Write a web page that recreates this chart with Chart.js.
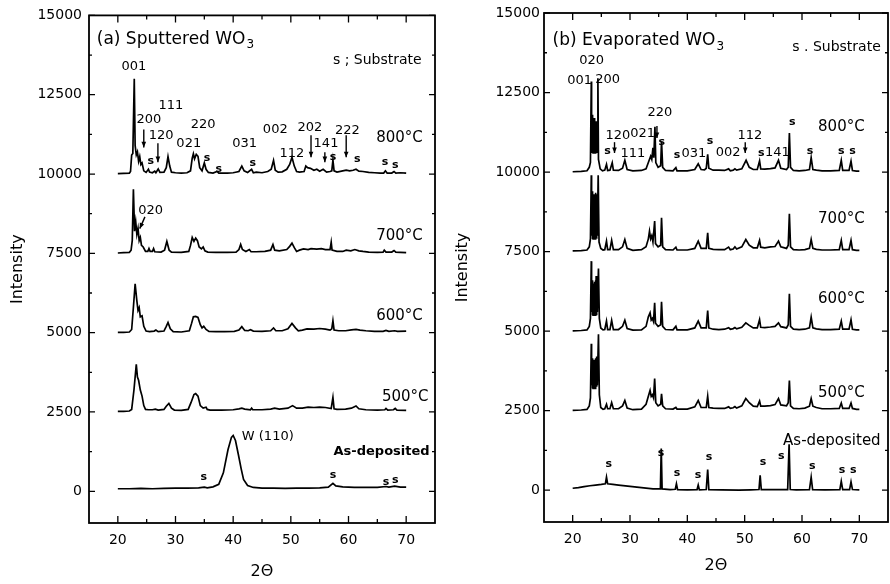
<!DOCTYPE html>
<html>
<head>
<meta charset="utf-8">
<script src="https://cdn.jsdelivr.net/npm/chart.js@4.4.1/dist/chart.umd.min.js"></script>
<style>
  html, body { margin: 0; padding: 0; background: #fff; }
  #wrap { position: relative; width: 890px; height: 584px; }
  .box { position: absolute; top: 0; width: 445px; height: 584px; }
</style>
</head>
<body>
<div id="wrap">
  <div class="box" style="left:0"><canvas id="chartA"></canvas></div>
  <div class="box" style="left:445px"><canvas id="chartB"></canvas></div>
</div>
<script>
// ---- axes ----
const xTicks = [20, 30, 40, 50, 60, 70];
const yTicks = [0, 2500, 5000, 7500, 10000, 12500, 15000];

// ---- (a) sputtered WO3 : [2theta, intensity] ----
const sp800 = [[20,10010],[21,10020],[22,10030],[22.2,10080],[22.4,10600],[22.6,10650],[22.85,13000],[23.0,10900],[23.2,10600],[23.4,10700],[23.6,10400],[23.8,10550],[24.0,10300],[24.2,10350],[24.5,10100],[24.9,10050],[25.3,10150],[25.5,10060],[26.0,10040],[26.4,10090],[26.6,10040],[27.0,10160],[27.3,10050],[28.0,10060],[28.4,10200],[28.7,10550],[29.0,10250],[29.3,10060],[30,10040],[31,10030],[32,10040],[32.6,10100],[32.9,10500],[33.1,10640],[33.3,10480],[33.6,10620],[33.9,10560],[34.2,10200],[34.6,10100],[35.0,10350],[35.3,10150],[35.7,10050],[36.5,10030],[37.2,10080],[37.5,10030],[39,10030],[40,10040],[41.0,10080],[41.5,10250],[41.9,10100],[42.5,10050],[43.2,10150],[43.5,10040],[44,10060],[45,10040],[46,10080],[46.6,10150],[47.0,10430],[47.3,10120],[47.8,10060],[48.5,10070],[49.3,10150],[49.8,10300],[50.2,10530],[50.6,10250],[51,10080],[51.5,10060],[52.3,10080],[52.6,10250],[52.9,10200],[53.4,10180],[54,10120],[54.5,10150],[55,10090],[55.6,10150],[56.2,10060],[56.8,10080],[57.1,10100],[57.3,10440],[57.5,10100],[58,10060],[58.8,10090],[59.6,10120],[60.2,10100],[60.8,10120],[61.3,10150],[61.8,10090],[62.5,10080],[63.5,10050],[64.5,10040],[65.5,10030],[66.1,10030],[66.4,10100],[66.7,10030],[67.5,10030],[67.9,10080],[68.2,10030],[69,10040],[70,10030]];
const sp700 = [[20,7510],[21,7520],[22,7530],[22.3,7600],[22.5,7900],[22.7,9520],[22.9,8200],[23.1,8500],[23.3,8100],[23.5,8290],[23.7,7900],[23.9,8000],[24.1,7750],[24.4,7700],[24.8,7560],[25.2,7560],[25.4,7650],[25.6,7560],[26.0,7560],[26.2,7650],[26.4,7550],[27.5,7540],[28.1,7600],[28.5,7875],[28.9,7600],[29.3,7540],[31,7530],[32.3,7560],[32.6,7750],[32.9,8000],[33.2,7880],[33.5,7980],[33.8,7900],[34.1,7700],[34.5,7640],[34.8,7700],[35.1,7580],[35.6,7540],[37,7530],[39,7530],[40.5,7540],[41.0,7620],[41.3,7780],[41.6,7620],[42.2,7560],[42.8,7620],[43.1,7550],[44,7550],[45.5,7560],[46.5,7600],[46.9,7780],[47.2,7600],[48,7580],[49.3,7620],[49.8,7720],[50.2,7820],[50.6,7680],[51.0,7560],[51.5,7600],[52.2,7640],[53,7620],[53.5,7650],[54.5,7630],[55.3,7650],[56.0,7620],[56.8,7620],[57.0,7850],[57.15,7600],[58,7560],[59,7560],[59.6,7600],[60.4,7580],[61.1,7620],[61.8,7580],[62.5,7560],[63.5,7540],[65,7530],[66.0,7540],[66.2,7600],[66.5,7540],[67.5,7540],[67.9,7590],[68.2,7540],[69,7530],[70,7520]];
const sp600 = [[20,5010],[21,5010],[22,5020],[22.4,5100],[22.7,5800],[23.0,6540],[23.3,6000],[23.5,5700],[23.7,5790],[23.9,5500],[24.2,5530],[24.5,5200],[24.9,5050],[25.5,5030],[26.3,5050],[26.6,5080],[27,5030],[28,5050],[28.4,5200],[28.7,5320],[29.1,5120],[29.6,5030],[31,5020],[32.4,5060],[32.8,5300],[33.1,5500],[33.5,5510],[33.9,5480],[34.3,5250],[34.6,5150],[34.9,5200],[35.3,5100],[35.8,5040],[37,5030],[38.5,5030],[40.2,5040],[41.0,5080],[41.5,5190],[42.0,5070],[42.6,5060],[43.0,5090],[43.5,5050],[45,5040],[46.5,5060],[47.0,5150],[47.4,5060],[48.5,5060],[49.5,5120],[50.2,5290],[50.8,5150],[51.3,5060],[52,5080],[52.8,5120],[54,5110],[55,5130],[56,5110],[56.8,5080],[57.1,5120],[57.3,5375],[57.5,5080],[58.3,5060],[59.5,5060],[60.5,5090],[61.3,5100],[62,5080],[63,5060],[64.5,5040],[66,5040],[66.5,5070],[67,5040],[68,5060],[68.5,5040],[70,5050]];
const sp500 = [[20,2520],[21,2520],[22,2530],[22.4,2580],[22.8,3200],[23.2,4000],[23.4,3600],[23.6,3500],[23.9,3190],[24.2,3000],[24.5,2700],[24.8,2580],[25.3,2570],[26,2570],[26.5,2590],[27,2560],[28,2580],[28.4,2680],[28.85,2770],[29.3,2620],[29.8,2560],[31,2550],[32.2,2580],[32.7,2800],[33.2,3050],[33.5,3080],[33.9,3000],[34.3,2700],[34.8,2620],[35.3,2650],[35.5,2580],[36,2560],[38,2560],[40,2570],[41,2600],[41.5,2620],[42,2590],[43,2570],[43.2,2620],[43.4,2570],[45,2570],[46.5,2590],[47.2,2620],[48,2590],[49.5,2620],[50.3,2700],[51,2620],[52,2620],[53,2650],[54,2640],[55,2650],[56,2640],[57,2610],[57.3,2960],[57.5,2600],[58,2580],[59.5,2590],[60.5,2620],[61.3,2690],[61.8,2600],[63,2570],[65,2560],[66.3,2570],[66.5,2610],[66.8,2560],[67.8,2570],[68.1,2610],[68.4,2560],[70,2550]];
const spAs = [[20,80],[22,80],[24,90],[26,80],[28,90],[30,100],[32,100],[34,110],[35,130],[35.5,110],[36.5,140],[37.5,220],[38.3,580],[39.1,1310],[39.7,1700],[40.0,1760],[40.4,1600],[40.9,1160],[41.4,700],[41.8,375],[42.5,180],[43.5,120],[45,100],[47,100],[49,90],[51,100],[53,100],[55,110],[56.5,130],[57.3,250],[57.8,170],[59,140],[61,120],[63,120],[65,120],[66.5,150],[67,130],[68,160],[69,130],[70,130]];

// ---- (b) evaporated WO3 : [2theta, intensity] ----
const ev800 = [[20,10010],[21.5,10020],[22.5,10040],[22.9,10150],[23.1,10300],[23.25,12850],[23.3,10600],[23.38,11800],[23.44,10700],[23.5,11800],[23.56,10600],[23.62,11700],[23.68,10700],[23.74,11700],[23.8,10600],[23.86,11650],[23.92,10600],[23.98,11600],[24.04,10700],[24.1,11600],[24.16,10600],[24.22,11500],[24.3,10700],[24.4,12950],[24.5,10400],[24.8,10100],[25.2,10040],[25.6,10060],[25.9,10240],[26.1,10050],[26.5,10060],[26.9,10290],[27.1,10060],[28,10050],[28.7,10120],[29.1,10370],[29.5,10080],[30.5,10040],[32,10050],[32.8,10100],[33.2,10300],[33.6,10500],[33.8,10400],[34.0,10760],[34.15,10450],[34.35,11420],[34.5,10300],[34.9,10150],[35.35,10200],[35.5,10970],[35.7,10150],[36.2,10050],[37.5,10040],[38.0,10140],[38.2,10040],[40,10040],[41.3,10080],[41.9,10260],[42.4,10080],[43.0,10070],[43.3,10120],[43.55,10560],[43.75,10120],[44.5,10060],[45.5,10060],[46.5,10050],[47.2,10100],[47.5,10040],[48.0,10060],[48.3,10100],[48.6,10060],[49.5,10100],[50.25,10370],[50.8,10150],[51.5,10080],[52.2,10080],[52.6,10350],[52.8,10100],[53.5,10090],[54.5,10110],[55.3,10130],[55.9,10370],[56.3,10120],[57.3,10080],[57.6,10150],[57.8,11230],[58.0,10150],[58.5,10050],[59.5,10040],[60.5,10050],[61.3,10080],[61.6,10450],[61.9,10080],[62.5,10060],[63.5,10040],[65,10040],[66.5,10050],[66.85,10370],[67.1,10050],[68.2,10050],[68.55,10340],[68.8,10050],[69.5,10030],[70,10030]];
const ev700 = [[20,7520],[21.5,7530],[22.5,7550],[22.9,7650],[23.1,7900],[23.25,9900],[23.3,8000],[23.38,9400],[23.44,7900],[23.5,9350],[23.56,7900],[23.62,9300],[23.68,7900],[23.74,9300],[23.8,7900],[23.86,9300],[23.92,7900],[23.98,9350],[24.04,8000],[24.1,9300],[24.16,7900],[24.22,9300],[24.3,8000],[24.45,9900],[24.6,7800],[24.9,7600],[25.3,7550],[25.6,7560],[25.9,7830],[26.1,7560],[26.5,7560],[26.8,7850],[27.1,7560],[28,7560],[28.7,7650],[29.1,7880],[29.5,7600],[30.5,7540],[32,7560],[32.8,7650],[33.2,7900],[33.4,8140],[33.6,7900],[33.8,8000],[34.0,7800],[34.3,8460],[34.45,7750],[34.9,7650],[35.35,7700],[35.5,8560],[35.7,7650],[36.2,7560],[37.5,7550],[38.0,7640],[38.2,7550],[40,7550],[41.3,7600],[41.9,7830],[42.4,7600],[43.3,7600],[43.55,8090],[43.75,7600],[44.5,7570],[45.5,7560],[46.5,7560],[47.2,7640],[47.5,7560],[48.0,7580],[48.3,7650],[48.6,7580],[49.5,7650],[50.2,7880],[50.8,7700],[51.5,7620],[52.2,7620],[52.6,7850],[52.8,7640],[53.5,7620],[54.5,7650],[55.3,7660],[55.9,7830],[56.3,7650],[57.3,7600],[57.6,7700],[57.8,8690],[58.0,7650],[58.5,7560],[59.5,7550],[60.5,7560],[61.3,7600],[61.6,7880],[61.9,7600],[62.5,7570],[63.5,7550],[65,7550],[66.5,7560],[66.85,7850],[67.1,7560],[68.2,7560],[68.55,7850],[68.8,7560],[69.5,7540],[70,7540]];
const ev600 = [[20,5010],[21.5,5020],[22.5,5040],[22.9,5150],[23.1,5400],[23.25,7200],[23.3,5600],[23.38,6600],[23.44,5500],[23.5,6550],[23.56,5500],[23.62,6500],[23.68,5500],[23.74,6500],[23.8,5500],[23.86,6550],[23.92,5500],[23.98,6600],[24.04,5500],[24.1,6730],[24.16,5500],[24.22,6600],[24.3,5600],[24.5,6970],[24.65,5400],[24.9,5100],[25.3,5040],[25.6,5050],[25.9,5315],[26.1,5050],[26.5,5050],[26.8,5340],[27.1,5050],[28,5050],[28.7,5150],[29.1,5340],[29.5,5080],[30.5,5030],[32,5040],[32.8,5150],[33.2,5450],[33.5,5575],[33.7,5350],[33.9,5400],[34.1,5300],[34.3,5890],[34.45,5250],[34.9,5150],[35.35,5200],[35.5,5920],[35.7,5150],[36.2,5050],[37.5,5040],[38.0,5150],[38.2,5040],[40,5040],[41.3,5100],[41.9,5315],[42.4,5100],[43.3,5100],[43.55,5650],[43.75,5100],[44.5,5060],[45.5,5050],[46.5,5060],[47.2,5110],[47.5,5060],[48.0,5080],[48.3,5110],[48.6,5070],[49.5,5120],[50.2,5260],[50.8,5180],[51.5,5100],[52.2,5100],[52.6,5360],[52.8,5120],[53.5,5110],[54.5,5130],[55.3,5150],[55.9,5260],[56.3,5140],[57.3,5100],[57.6,5200],[57.8,6170],[58.0,5150],[58.5,5060],[59.5,5050],[60.5,5060],[61.3,5100],[61.6,5440],[61.9,5100],[62.5,5070],[63.5,5050],[65,5050],[66.5,5060],[66.85,5315],[67.1,5060],[68.2,5060],[68.55,5360],[68.8,5060],[69.5,5040],[70,5040]];
const ev500 = [[20,2510],[21.5,2520],[22.5,2540],[22.9,2650],[23.1,2900],[23.25,4600],[23.3,3300],[23.38,4150],[23.44,3200],[23.5,4120],[23.56,3200],[23.62,4100],[23.68,3200],[23.74,4100],[23.8,3200],[23.86,4100],[23.92,3200],[23.98,4150],[24.04,3200],[24.1,4150],[24.16,3250],[24.22,4200],[24.3,3300],[24.5,4900],[24.65,3000],[24.9,2600],[25.3,2540],[25.6,2560],[25.9,2700],[26.1,2560],[26.5,2560],[26.8,2750],[27.1,2560],[28,2560],[28.7,2650],[29.1,2820],[29.5,2580],[30.5,2530],[32,2550],[32.8,2700],[33.2,2950],[33.5,3135],[33.7,2950],[33.9,3000],[34.1,2900],[34.3,3510],[34.5,2750],[34.9,2650],[35.35,2700],[35.5,3030],[35.7,2650],[36.2,2560],[37.5,2550],[38.0,2600],[38.2,2550],[40,2550],[41.3,2620],[41.9,2820],[42.4,2600],[43.3,2600],[43.55,2955],[43.75,2600],[44.5,2580],[45.5,2570],[46.5,2570],[47.2,2620],[47.5,2570],[48.0,2590],[48.3,2630],[48.6,2580],[49.5,2650],[50.2,2880],[50.8,2750],[51.5,2640],[52.2,2630],[52.6,2800],[52.8,2640],[53.5,2640],[54.5,2660],[55.3,2690],[55.9,2880],[56.3,2680],[57.3,2650],[57.6,2750],[57.8,3450],[58.0,2650],[58.5,2570],[59.5,2560],[60.5,2580],[61.3,2640],[61.6,2880],[61.9,2640],[62.5,2600],[63.5,2560],[65,2560],[66.5,2570],[66.85,2740],[67.1,2570],[68.2,2570],[68.55,2740],[68.8,2570],[69.5,2540],[70,2540]];
const evAs = [[20,60],[21,80],[22,110],[23,140],[24,160],[25,180],[25.7,200],[25.9,410],[26.1,200],[27,180],[28,160],[30,120],[32,80],[34,40],[35.3,40],[35.45,1310],[35.6,40],[37,20],[37.9,30],[38.1,200],[38.3,20],[40,10],[41.7,20],[41.9,160],[42.1,10],[43.3,20],[43.55,650],[43.75,20],[46,10],[49,0],[51,10],[52.5,20],[52.7,470],[52.9,20],[55,20],[57.5,20],[57.75,1440],[57.95,20],[59,10],[61.3,20],[61.6,410],[61.85,20],[64,10],[66.6,20],[66.85,280],[67.1,20],[68.3,20],[68.55,260],[68.8,20],[70,10]];

// ---- annotations (text, 2theta, intensity) ----
const peaksA = [['001',22.8,13400],['111',29.2,12150],['200',25.4,11700],['120',27.5,11200],['220',34.8,11550],['021',32.3,10950],['031',42.0,10950],['002',47.3,11400],['112',50.2,10650],['202',53.3,11450],['141',56.1,10950],['222',59.8,11380],['020',25.7,8840]];
const subsA = [[25.7,10400],[35.45,10500],[37.5,10160],[43.4,10340],[57.3,10530],[61.5,10470],[66.35,10375],[68.1,10280],[34.9,440],[57.3,500],[66.5,280],[68.1,340]];
const arrowsA = [[24.5,11400,24.5,10840],[26.95,10970,26.95,10375],[53.5,11220,53.5,10530],[55.9,10690,55.9,10375],[59.6,11220,59.6,10530],[24.7,8650,23.8,8280]];
const tempsA = [['800°C',64.8,11120],['700°C',64.8,8030],['600°C',64.8,5530],['500°C',65.8,2970]];
const notesA = [['W (110)',41.5,1720,'13px'],['As-deposited',57.4,1250,'bold 13px']];

const peaksB = [['020',23.3,13490],['001',21.2,12860],['200',26.1,12920],['220',35.2,11855],['120',27.9,11160],['021',32.2,11195],['111',30.5,10565],['031',41.15,10565],['002',47.1,10600],['112',50.9,11160],['141',55.7,10600]];
const subsB = [[35.55,10940],[26.1,10660],[38.2,10535],[43.95,10975],[52.9,10600],[58.3,11570],[61.4,10660],[66.85,10660],[68.8,10660],[26.3,820],[35.4,1160],[38.2,535],[41.85,470],[43.8,1040],[53.2,880],[56.4,1070],[61.8,750],[67.0,630],[68.95,630]];
const arrowsB = [[34.7,11450,34.7,11070],[27.3,10940,27.3,10600],[50.1,10940,50.1,10600]];
const tempsB = [['800°C',62.8,11415],['700°C',62.8,8520],['600°C',62.8,6000],['500°C',62.8,3050]];
const notesB = [['As-deposited',56.7,1540,'15px']];

const FONT = 'DejaVu Sans';

function toXY(arr) {
  return arr.map(p => ({ x: p[0], y: p[1] }));
}

// frame, inward ticks and text labels, all placed through the chart scales
const xrdDecor = {
  id: 'xrdDecor',
  afterDraw(chart, args, o) {
    const { ctx, chartArea: a, scales: { x, y } } = chart;
    ctx.save();
    ctx.strokeStyle = '#000';
    ctx.fillStyle = '#000';

    // frame
    ctx.lineWidth = 1.8;
    ctx.strokeRect(a.left, a.top, a.right - a.left, a.bottom - a.top);

    // ticks (major + minor halfway)
    ctx.lineWidth = 1.3;
    ctx.beginPath();
    yTicks.forEach((v, i) => {
      const py = y.getPixelForValue(v);
      ctx.moveTo(a.left, py); ctx.lineTo(a.left + 6, py);
      ctx.moveTo(a.right, py); ctx.lineTo(a.right - 6, py);
      if (i > 0) {
        const pm = y.getPixelForValue((v + yTicks[i - 1]) / 2);
        ctx.moveTo(a.left, pm); ctx.lineTo(a.left + 3, pm);
        ctx.moveTo(a.right, pm); ctx.lineTo(a.right - 3, pm);
      }
    });
    xTicks.forEach((v, i) => {
      const px = x.getPixelForValue(v);
      ctx.moveTo(px, a.bottom); ctx.lineTo(px, a.bottom - 7);
      ctx.moveTo(px, a.top); ctx.lineTo(px, a.top + 7);
      if (i > 0) {
        const pm = x.getPixelForValue((v + xTicks[i - 1]) / 2);
        ctx.moveTo(pm, a.bottom); ctx.lineTo(pm, a.bottom - 4);
        ctx.moveTo(pm, a.top); ctx.lineTo(pm, a.top + 4);
      }
    });
    ctx.stroke();

    const X = v => x.getPixelForValue(v);
    const Y = v => y.getPixelForValue(v);

    // panel title with subscript
    ctx.textBaseline = 'middle';
    ctx.textAlign = 'left';
    ctx.font = '17px ' + FONT;
    const tx = X(o.title[1]), ty = Y(o.title[2]);
    ctx.fillText(o.title[0], tx, ty);
    const tw = ctx.measureText(o.title[0]).width;
    ctx.font = '12px ' + FONT;
    ctx.fillText('3', tx + tw + 1, ty + 6);

    ctx.font = '14px ' + FONT;
    ctx.fillText(o.substrate[0], X(o.substrate[1]), Y(o.substrate[2]));

    // temperatures
    ctx.font = '15px ' + FONT;
    o.temps.forEach(t => ctx.fillText(t[0], X(t[1]), Y(t[2])));

    o.notes.forEach(t => {
      ctx.font = t[3] + ' ' + FONT;
      ctx.fillText(t[0], X(t[1]), Y(t[2]));
    });

    // peak indices
    ctx.textAlign = 'center';
    ctx.font = '13px ' + FONT;
    o.peaks.forEach(t => ctx.fillText(t[0], X(t[1]), Y(t[2])));

    ctx.font = 'bold 11px ' + FONT;
    o.subs.forEach(t => ctx.fillText('s', X(t[0]), Y(t[1])));

    // arrows
    ctx.lineWidth = 1.4;
    o.arrows.forEach(r => {
      const x1 = X(r[0]), y1 = Y(r[1]), x2 = X(r[2]), y2 = Y(r[3]);
      ctx.beginPath();
      ctx.moveTo(x1, y1); ctx.lineTo(x2, y2);
      ctx.stroke();
      const ang = Math.atan2(y2 - y1, x2 - x1);
      ctx.beginPath();
      ctx.moveTo(x2, y2);
      ctx.lineTo(x2 - 6 * Math.cos(ang - 0.4), y2 - 6 * Math.sin(ang - 0.4));
      ctx.lineTo(x2 - 6 * Math.cos(ang + 0.4), y2 - 6 * Math.sin(ang + 0.4));
      ctx.closePath();
      ctx.fill();
    });
    ctx.restore();
  }
};

function makeChart(id, series, deco, pad, yWidth, xHeight, titlePad) {
  const ctx = document.getElementById(id).getContext('2d');
  return new Chart(ctx, {
    type: 'line',
    data: {
      datasets: series.map(s => ({
        data: toXY(s),
        borderColor: '#000',
        borderWidth: 1.7,
        pointRadius: 0,
        tension: 0,
        fill: false
      }))
    },
    options: {
      responsive: true,
      maintainAspectRatio: false,
      animation: false,
      layout: { padding: pad },
      scales: {
        x: {
          type: 'linear',
          min: 15,
          max: 75,
          afterBuildTicks: s => { s.ticks = xTicks.map(v => ({ value: v })); },
          afterFit: s => { s.height = xHeight; },
          grid: { display: false, drawTicks: false },
          border: { display: false },
          ticks: { color: '#000', padding: 9, font: { family: FONT, size: 14 }, callback: v => String(v) },
          title: { display: true, text: '2Θ', color: '#000', padding: { top: 0, bottom: titlePad.x }, font: { family: FONT, size: 16 } }
        },
        y: {
          min: -1000,
          max: 15000,
          afterBuildTicks: s => { s.ticks = yTicks.map(v => ({ value: v })); },
          afterFit: s => { s.width = yWidth; },
          grid: { display: false, drawTicks: false },
          border: { display: false },
          ticks: { color: '#000', padding: titlePad.tick, font: { family: FONT, size: 14 }, callback: v => String(v) },
          title: { display: true, text: 'Intensity', color: '#000', padding: { top: 8, bottom: 0 }, font: { family: FONT, size: 16 } }
        }
      },
      plugins: {
        legend: { display: false },
        tooltip: { enabled: false },
        xrdDecor: deco
      }
    },
    plugins: [xrdDecor]
  });
}

makeChart('chartA', [sp800, sp700, sp600, sp500, spAs], {
  title: ['(a) Sputtered WO', 16.35, 14250],
  substrate: ['s ; Substrate', 57.3, 13590],
  peaks: peaksA, subs: subsA, arrows: arrowsA, temps: tempsA, notes: notesA
}, { left: 0, right: 10, top: 12, bottom: 0 }, 89, 61, { x: 3, tick: 7 });

makeChart('chartB', [ev800, ev700, ev600, ev500, evAs], {
  title: ['(b) Evaporated WO', 16.5, 14120],
  substrate: ['s . Substrate', 58.3, 13930],
  peaks: peaksB, subs: subsB, arrows: arrowsB, temps: tempsB, notes: notesB
}, { left: 0, right: 2, top: 13, bottom: 0 }, 99, 62, { x: 9, tick: 4 });
</script>
</body>
</html>
